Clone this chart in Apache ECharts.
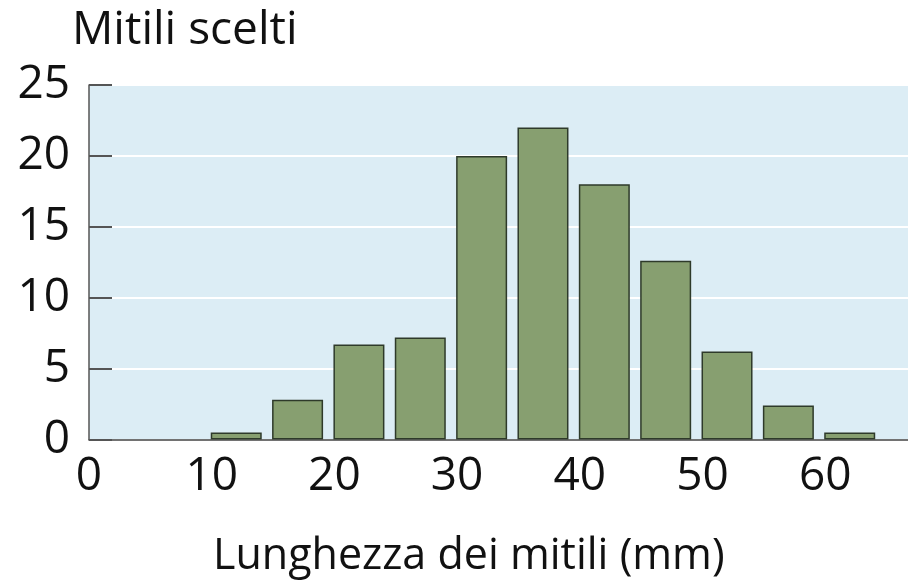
<!DOCTYPE html>
<html>
<head>
<meta charset="utf-8">
<script src="https://cdn.jsdelivr.net/npm/echarts@6/dist/echarts.min.js"></script>
<style>html,body{margin:0;padding:0;background:#fff}#c{width:908px;height:584px}</style>
</head>
<body>
<div id="c"></div>
<script>
const binCenters = [12, 17, 22, 27, 32, 37, 42, 47, 52, 57, 62];
const counts = [0.5, 2.8, 6.7, 7.2, 20, 22, 18, 12.6, 6.2, 2.4, 0.5];
const yTitle = 'Mitili scelti';
const xTitle = 'Lunghezza dei mitili (mm)';

const FONT = '"Open Sans", "Liberation Sans", sans-serif';
const chart = echarts.init(document.getElementById('c'), null, {renderer: 'canvas'});
chart.setOption({
  animation: false,
  backgroundColor: '#ffffff',
  title: [
    {text: yTitle, left: 67, top: 3, textStyle: {fontFamily: FONT, fontSize: 46, fontWeight: 'normal', color: '#111'}},
    {text: xTitle, left: 208, top: 530, textStyle: {fontFamily: FONT, fontSize: 43, fontWeight: 'normal', color: '#111'}}
  ],
  grid: {left: 89, right: 0, top: 85, bottom: 144.5, show: true, backgroundColor: '#dcedf5', borderWidth: 0},
  xAxis: {
    type: 'value', min: 0, max: 66.75, interval: 10,
    axisLine: {show: true, lineStyle: {color: '#444', width: 1.5}},
    axisTick: {show: false},
    splitLine: {show: false},
    axisLabel: {showMaxLabel: false, margin: 14, fontFamily: FONT, fontSize: 46, color: '#111',
      formatter: v => (v % 10 === 0 ? String(v) : '')}
  },
  yAxis: {
    type: 'value', min: 0, max: 25, interval: 5,
    axisLine: {show: true, lineStyle: {color: '#555', width: 1.5}},
    axisTick: {show: true, inside: true, length: 23, lineStyle: {color: '#555', width: 2}},
    splitLine: {show: true, lineStyle: {color: '#ffffff', width: 2}},
    axisLabel: {margin: 19, fontFamily: FONT, fontSize: 46, color: '#111'}
  },
  series: [{
    type: 'bar',
    data: binCenters.map((x, i) => [x, counts[i]]),
    barWidth: 51,
    itemStyle: {color: '#879f70', borderColor: '#2e3a2a', borderWidth: 1.5}
  }]
});
</script>
</body>
</html>
